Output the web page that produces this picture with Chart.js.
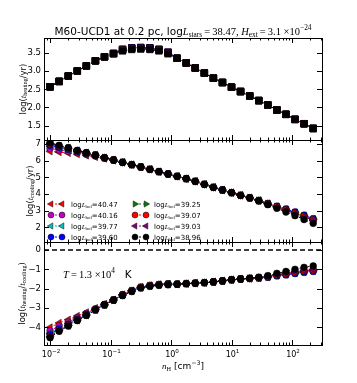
<!DOCTYPE html>
<html><head><meta charset="utf-8">
<script src="https://cdn.jsdelivr.net/npm/chart.js@4/dist/chart.umd.min.js"></script>
<style>
body{margin:0;background:#fff;}
#wrap{position:relative;width:357px;height:383px;background:#fff;}
canvas{position:absolute;left:0;top:0;}
</style>
</head><body>
<div id="wrap">
<canvas id="c1" width="357" height="383"></canvas>
<canvas id="c2" width="357" height="383"></canvas>
<canvas id="c3" width="357" height="383"></canvas>
</div>
<script>
// ---------------- data ----------------
const nH = [0.0100,0.0141,0.0200,0.0282,0.0398,0.0562,0.0794,0.112,0.158,0.224,0.316,0.447,0.631,0.891,1.26,1.78,2.51,3.55,5.01,7.08,10.0,14.1,20.0,28.2,39.8,56.2,79.4,112,158,224];
const lumBol = ['40.47','40.16','39.77','39.60','39.25','39.07','39.03','38.96'];

const heat4047 = [2.57,2.72,2.87,3.01,3.15,3.29,3.40,3.49,3.61,3.65,3.66,3.65,3.61,3.53,3.36,3.23,3.09,2.95,2.81,2.69,2.56,2.44,2.32,2.19,2.07,1.93,1.81,1.67,1.55,1.42];
const heat4016 = [2.57,2.72,2.87,3.01,3.15,3.29,3.40,3.49,3.60,3.64,3.65,3.64,3.60,3.52,3.36,3.23,3.09,2.95,2.81,2.69,2.56,2.44,2.32,2.19,2.07,1.93,1.81,1.67,1.55,1.42];
const heat3977 = [2.57,2.72,2.87,3.01,3.15,3.29,3.40,3.49,3.60,3.64,3.65,3.64,3.60,3.52,3.36,3.23,3.09,2.95,2.81,2.69,2.56,2.44,2.32,2.19,2.07,1.93,1.81,1.67,1.55,1.42];
const heat3960 = [2.57,2.72,2.87,3.01,3.15,3.29,3.40,3.49,3.61,3.65,3.66,3.65,3.61,3.53,3.36,3.23,3.09,2.95,2.81,2.69,2.56,2.44,2.32,2.19,2.07,1.93,1.81,1.67,1.55,1.42];
const heat3925 = [2.57,2.72,2.87,3.01,3.15,3.29,3.40,3.49,3.59,3.63,3.64,3.63,3.59,3.51,3.36,3.23,3.09,2.95,2.81,2.69,2.56,2.44,2.32,2.19,2.07,1.93,1.81,1.67,1.55,1.42];
const heat3907 = [2.57,2.72,2.87,3.01,3.15,3.29,3.40,3.49,3.59,3.63,3.64,3.63,3.59,3.51,3.36,3.23,3.09,2.95,2.81,2.69,2.56,2.44,2.32,2.19,2.07,1.93,1.81,1.67,1.55,1.42];
const heat3903 = [2.57,2.72,2.87,3.01,3.15,3.29,3.40,3.49,3.58,3.62,3.63,3.62,3.58,3.50,3.36,3.23,3.09,2.95,2.81,2.69,2.56,2.44,2.32,2.19,2.07,1.93,1.81,1.67,1.55,1.42];
const heat3896 = [2.57,2.72,2.87,3.01,3.15,3.29,3.40,3.49,3.56,3.60,3.61,3.60,3.56,3.48,3.36,3.23,3.09,2.95,2.81,2.69,2.56,2.44,2.32,2.19,2.07,1.93,1.81,1.67,1.55,1.42];

const cool4047 = [6.56,6.51,6.46,6.39,6.31,6.22,6.12,6.01,5.90,5.76,5.62,5.48,5.34,5.20,5.06,4.92,4.76,4.58,4.40,4.24,4.08,3.92,3.77,3.61,3.42,3.24,3.06,2.87,2.67,2.46];
const cool4016 = [6.73,6.64,6.57,6.47,6.38,6.28,6.15,6.03,5.90,5.76,5.62,5.48,5.34,5.20,5.06,4.92,4.76,4.58,4.40,4.24,4.08,3.92,3.77,3.61,3.41,3.23,3.05,2.86,2.66,2.45];
const cool3977 = [6.86,6.75,6.65,6.53,6.42,6.31,6.16,6.04,5.90,5.76,5.62,5.48,5.34,5.20,5.06,4.92,4.76,4.58,4.40,4.24,4.08,3.92,3.78,3.62,3.43,3.25,3.08,2.90,2.71,2.50];
const cool3960 = [6.92,6.80,6.69,6.56,6.44,6.32,6.17,6.04,5.90,5.76,5.62,5.48,5.34,5.20,5.06,4.92,4.76,4.58,4.40,4.24,4.08,3.92,3.78,3.62,3.44,3.27,3.10,2.92,2.73,2.52];
const cool3925 = [7.00,6.86,6.74,6.59,6.46,6.33,6.18,6.04,5.90,5.76,5.62,5.48,5.34,5.20,5.06,4.92,4.76,4.58,4.40,4.24,4.08,3.92,3.77,3.61,3.42,3.24,3.06,2.88,2.68,2.48];
const cool3907 = [7.03,6.88,6.75,6.60,6.47,6.34,6.18,6.04,5.90,5.76,5.62,5.48,5.34,5.20,5.06,4.92,4.76,4.58,4.40,4.24,4.08,3.92,3.77,3.60,3.41,3.22,3.04,2.85,2.65,2.44];
const cool3903 = [7.04,6.89,6.76,6.61,6.48,6.34,6.18,6.04,5.90,5.76,5.62,5.48,5.34,5.20,5.06,4.92,4.76,4.58,4.40,4.24,4.08,3.92,3.77,3.60,3.40,3.21,3.02,2.83,2.63,2.42];
const cool3896 = [7.08,6.92,6.78,6.62,6.48,6.34,6.18,6.04,5.90,5.76,5.62,5.48,5.34,5.20,5.06,4.92,4.76,4.58,4.40,4.24,4.08,3.92,3.76,3.58,3.36,3.14,2.92,2.70,2.47,2.24];

const ratio4047 = [-4.00,-3.77,-3.60,-3.41,-3.22,-3.00,-2.79,-2.57,-2.31,-2.10,-1.92,-1.83,-1.78,-1.75,-1.77,-1.74,-1.72,-1.69,-1.65,-1.60,-1.54,-1.50,-1.47,-1.44,-1.39,-1.31,-1.25,-1.17,-1.10,-1.05];
const ratio4016 = [-4.18,-3.92,-3.72,-3.50,-3.28,-3.04,-2.81,-2.58,-2.32,-2.11,-1.93,-1.84,-1.79,-1.76,-1.77,-1.74,-1.72,-1.69,-1.65,-1.60,-1.54,-1.50,-1.47,-1.44,-1.38,-1.30,-1.24,-1.16,-1.09,-1.04];
const ratio3977 = [-4.31,-4.03,-3.80,-3.56,-3.32,-3.07,-2.82,-2.59,-2.32,-2.11,-1.93,-1.84,-1.79,-1.76,-1.77,-1.74,-1.72,-1.69,-1.65,-1.60,-1.54,-1.50,-1.48,-1.45,-1.40,-1.32,-1.27,-1.20,-1.14,-1.09];
const ratio3960 = [-4.37,-4.08,-3.84,-3.59,-3.34,-3.08,-2.83,-2.59,-2.31,-2.10,-1.92,-1.83,-1.78,-1.75,-1.77,-1.74,-1.72,-1.69,-1.65,-1.60,-1.54,-1.50,-1.48,-1.45,-1.41,-1.34,-1.29,-1.22,-1.16,-1.11];
const ratio3925 = [-4.45,-4.14,-3.89,-3.62,-3.36,-3.09,-2.84,-2.59,-2.33,-2.12,-1.94,-1.85,-1.80,-1.77,-1.77,-1.74,-1.72,-1.69,-1.65,-1.60,-1.54,-1.50,-1.47,-1.44,-1.39,-1.31,-1.25,-1.18,-1.11,-1.07];
const ratio3907 = [-4.48,-4.16,-3.90,-3.63,-3.37,-3.10,-2.84,-2.59,-2.33,-2.12,-1.94,-1.85,-1.80,-1.77,-1.77,-1.74,-1.72,-1.69,-1.65,-1.60,-1.54,-1.50,-1.47,-1.43,-1.38,-1.29,-1.23,-1.15,-1.08,-1.03];
const ratio3903 = [-4.49,-4.17,-3.91,-3.64,-3.38,-3.10,-2.84,-2.59,-2.34,-2.13,-1.95,-1.86,-1.81,-1.78,-1.77,-1.74,-1.72,-1.69,-1.65,-1.60,-1.54,-1.50,-1.47,-1.43,-1.37,-1.28,-1.21,-1.13,-1.06,-1.01];
const ratio3896 = [-4.53,-4.20,-3.93,-3.65,-3.38,-3.10,-2.84,-2.59,-2.36,-2.15,-1.97,-1.88,-1.83,-1.80,-1.77,-1.74,-1.72,-1.69,-1.65,-1.60,-1.54,-1.50,-1.46,-1.41,-1.33,-1.21,-1.11,-1.00,-0.90,-0.83];

const zeroLevel = [0, 0];

const yTicksHeat = [1.5, 2.0, 2.5, 3.0, 3.5];
const yTicksCool = [2, 3, 4, 5, 6, 7];
const yTicksRatio = [-4, -3, -2, -1, 0];
const xTickExps = [-2, -1, 0, 1, 2];

const X_MIN = 0.00794, X_MAX = 313;

const heatSeries = [heat4047, heat4016, heat3977, heat3960, heat3925, heat3907, heat3903, heat3896];
const coolSeries = [cool4047, cool4016, cool3977, cool3960, cool3925, cool3907, cool3903, cool3896];
const ratioSeries = [ratio4047, ratio4016, ratio3977, ratio3960, ratio3925, ratio3907, ratio3903, ratio3896];

// ---------------- styles ----------------
const styles = [
  {c:'#ff0000', m:'triangle', rot:-90},
  {c:'#bf00bf', m:'circle', rot:0},
  {c:'#00bfbf', m:'triangle', rot:-90},
  {c:'#0000ff', m:'circle', rot:0},
  {c:'#008000', m:'triangle', rot:90},
  {c:'#ff0000', m:'circle', rot:0},
  {c:'#800080', m:'triangle', rot:-90},
  {c:'#000000', m:'circle', rot:0}
];

const SANS = 'DejaVu Sans', SERIF = 'Liberation Serif';
Chart.defaults.font.family = SANS;
Chart.defaults.color = '#000';

function seg(t, f, p){ return {t, f, p}; }
function segFont(s, size){
  const sz = s.p ? size*0.7 : size;
  const fam = s.f === 'r' ? SANS : SERIF;
  return (s.f === 'i' ? 'italic ' : '') + sz + 'px "' + fam + '"';
}
function drawRich(ctx, segs, x, y, size, align, rot){
  ctx.save();
  ctx.translate(x, y);
  if (rot) ctx.rotate(rot);
  let w = 0;
  for (const s of segs){ ctx.font = segFont(s, size); s.w = ctx.measureText(s.t).width; w += s.w; }
  let cx = align === 'center' ? -w/2 : 0;
  ctx.textBaseline = 'alphabetic'; ctx.textAlign = 'left'; ctx.fillStyle = '#000';
  for (const s of segs){
    ctx.font = segFont(s, size);
    const dy = s.p === 'sub' ? size*0.22 : (s.p === 'sup' ? -size*0.45 : 0);
    ctx.fillText(s.t, cx, dy);
    cx += s.w;
  }
  ctx.restore();
}

function makeDatasets(series, squares){
  return series.map((arr, i) => {
    const st = styles[i];
    const isTri = st.m === 'triangle';
    return {
      data: nH.map((x, j) => ({x, y: arr[j]})),
      borderColor: st.c,
      borderWidth: 1,
      borderDash: [2, 2],
      pointStyle: squares ? 'rect' : st.m,
      rotation: squares ? 0 : st.rot,
      pointRadius: squares ? 4.6 : (isTri ? 4.2 : 3.4),
      pointBackgroundColor: st.c,
      pointBorderColor: '#000',
      pointBorderWidth: 0.5,
      tension: 0,
      order: 7 - i
    };
  });
}

const frame = {
  id: 'mplframe',
  afterDatasetsDraw(chart){
    const ctx = chart.ctx, a = chart.chartArea, xs = chart.scales.x, ys = chart.scales.y;
    ctx.save();
    ctx.strokeStyle = '#000'; ctx.lineWidth = 1;
    const line = (x1,y1,x2,y2) => { ctx.beginPath(); ctx.moveTo(x1,y1); ctx.lineTo(x2,y2); ctx.stroke(); };
    for (let k = -3; k <= 3; k++){
      for (let m = 1; m < 10; m++){
        const v = m * Math.pow(10, k);
        if (v < xs.min || v > xs.max) continue;
        const px = Math.round(xs.getPixelForValue(v)) + 0.5;
        const len = m === 1 ? 5 : 2.5;
        line(px, a.bottom, px, a.bottom - len);
        line(px, a.top, px, a.top + len);
      }
    }
    for (const t of ys.ticks){
      const py = Math.round(ys.getPixelForValue(t.value)) + 0.5;
      line(a.left, py, a.left + 5, py);
      line(a.right, py, a.right - 5, py);
    }
    ctx.strokeRect(Math.round(a.left)+0.5, Math.round(a.top)+0.5, Math.round(a.right - a.left), Math.round(a.bottom - a.top));
    ctx.restore();
  }
};

function makeChart(id, datasets, ymin, ymax, yticks, fmt, padTop, padBottom, extra){
  return new Chart(document.getElementById(id), {
    type: 'line',
    data: {datasets},
    options: {
      responsive: false, animation: false, events: [],
      layout: {padding: {left: 0, right: 35, top: padTop, bottom: padBottom}},
      plugins: {legend: {display: false}, tooltip: {enabled: false}, title: {display: false}},
      scales: {
        x: {type: 'logarithmic', min: X_MIN, max: X_MAX, display: false},
        y: {
          type: 'linear', min: ymin, max: ymax,
          afterFit(s){ s.width = 44; },
          afterBuildTicks(s){ s.ticks = yticks.map(v => ({value: v})); },
          grid: {display: false, drawTicks: false},
          border: {display: false},
          ticks: {padding: 3, color: '#000', font: {family: SANS, size: 8.5}, callback: fmt}
        }
      }
    },
    plugins: [frame, {id: 'extra', afterDraw: c => extra(c)}]
  });
}

function yTitle(chart, segs, x){
  const a = chart.chartArea;
  drawRich(chart.ctx, segs, x, (a.top + a.bottom)/2, 8.5, 'center', -Math.PI/2);
}

// ---------------- panel 1 ----------------
makeChart('c1', makeDatasets(heatSeries, true), 1.1, 3.92, yTicksHeat, v => Number(v).toFixed(1), 38, 243, c => {
  const a = c.chartArea;
  drawRich(c.ctx, [seg('M60-UCD1 at 0.2 pc, log','r'), seg('L','i'), seg('stars','m','sub'), seg('\u2009=\u200938.47, ','m'),
    seg('H','i'), seg('ext','m','sub'), seg('\u2009=\u20093.1 \u00d710','m'), seg('\u221224','m','sup')],
    (a.left + a.right)/2, 34.5, 10.5, 'center');
  yTitle(c, [seg('log(','r'), seg('t','i'), seg('heating','m','sub'), seg('/yr)','r')], 25.5);
});

// ---------------- panel 2 ----------------
makeChart('c2', makeDatasets(coolSeries, false), 1.12, 7.24, yTicksCool, v => String(v), 140, 141, c => {
  yTitle(c, [seg('log(','r'), seg('t','i'), seg('cooling','m','sub'), seg('/yr)','r')], 32.5);
  const ctx = c.ctx;
  for (let i = 0; i < 8; i++){
    const st = styles[i];
    const col = Math.floor(i/4), row = i % 4;
    const x0 = col ? 135 : 51, x1 = col ? 146 : 62, tx = col ? 154 : 71;
    const y = 204 + row * 11;
    ctx.save();
    ctx.strokeStyle = st.c; ctx.lineWidth = 1; ctx.setLineDash([2,2]);
    ctx.beginPath(); ctx.moveTo(x0, y); ctx.lineTo(x1, y); ctx.stroke();
    ctx.setLineDash([]);
    ctx.fillStyle = st.c; ctx.strokeStyle = '#000'; ctx.lineWidth = 0.5;
    for (const px of [x0, x1]){
      Chart.helpers.drawPoint(ctx, {pointStyle: st.m, rotation: st.rot, radius: st.m === 'triangle' ? 3.6 : 3, borderWidth: 0.5}, px, y);
    }
    ctx.restore();
    drawRich(ctx, [seg('log','r'), seg('L','i'), seg('bol','m','sub'), seg('=' + lumBol[i],'r')], tx, y + 2.5, 7, 'left');
  }
});

// ---------------- panel 3 ----------------
const ds3 = makeDatasets(ratioSeries, false);
ds3.push({
  data: [{x: X_MIN, y: zeroLevel[0]}, {x: X_MAX, y: zeroLevel[1]}],
  borderColor: '#000', borderWidth: 1.5, borderDash: [5, 3], pointRadius: 0, order: 20
});
makeChart('c3', ds3, -4.91, 0.41, yTicksRatio, v => String(v).replace('-', '\u2212'), 242, 38, c => {
  const ctx = c.ctx, xs = c.scales.x, a = c.chartArea;
  yTitle(c, [seg('log(','r'), seg('t','i'), seg('heating','m','sub'), seg('/','r'), seg('t','i'), seg('cooling','m','sub'), seg(')','r')], 24.5);
  for (const e of xTickExps){
    const px = xs.getPixelForValue(Math.pow(10, e));
    drawRich(ctx, [seg('10','r'), seg(e < 0 ? '\u2212' + (-e) : String(e), 'r', 'sup')], px + 1, 357, 8, 'center');
  }
  drawRich(ctx, [seg('n','i'), seg('H','m','sub'), seg(' [cm','r'), seg('\u22123','r','sup'), seg(']','r')], (a.left + a.right)/2, 369, 9, 'center');
  drawRich(ctx, [seg('T','i'), seg('\u2009=\u20091.3 \u00d710','m'), seg('4','m','sup'), seg('   K','r')], 63, 278, 10.5, 'left');
});
</script>
</body></html>
